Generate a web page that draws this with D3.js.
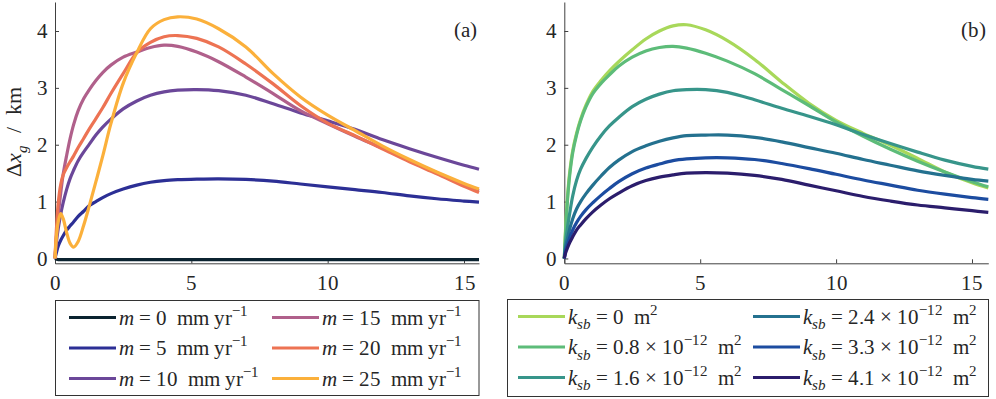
<!DOCTYPE html>
<html>
<head>
<meta charset="utf-8">
<title></title>
<style>
    @font-face {
        font-family: "PlotSerif";
        font-style: normal;
        src: local("Liberation Serif"), local("LiberationSerif"), local("LiberationSerif-Regular"),
             local("DejaVu Serif"), local("DejaVuSerif");
    }
    @font-face {
        font-family: "PlotSerif";
        font-style: italic;
        src: local("Liberation Serif Italic"), local("LiberationSerif-Italic"),
             local("DejaVu Serif Italic"), local("DejaVuSerif-Italic");
    }
    body { margin: 0; background: #fff; }
    svg text { fill: #262626; white-space: pre; font-family: "PlotSerif", "Liberation Serif", serif; }
    .axis path, .axis line { stroke: #404040; }
</style>
</head>
<body>
<script src="https://cdn.jsdelivr.net/npm/d3@7/dist/d3.min.js"></script>
<script>
// ---- data ----
var xTicks = [0, 5, 10, 15];
var yTicks = [0, 1, 2, 3, 4];

// panel (a): curves for different m
var xA = [0, 0.05, 0.12, 0.21, 0.3, 0.43, 0.55, 0.68, 0.85, 1.05, 1.26, 1.5, 1.75, 2.05, 2.5, 3, 3.5, 4, 4.5, 5.2, 6, 7, 8, 9, 10, 11, 12, 13, 14, 15, 15.55];
var yM0 = [0, -0.01, -0.02, -0.02, -0.02, -0.02, -0.02, -0.02, -0.02, -0.02, -0.02, -0.02, -0.02, -0.02, -0.02, -0.02, -0.02, -0.02, -0.02, -0.02, -0.02, -0.02, -0.02, -0.02, -0.02, -0.02, -0.02, -0.02, -0.02, -0.02, -0.02];
var yM5 = [0, 0.1, 0.22, 0.32, 0.4, 0.5, 0.57, 0.64, 0.74, 0.83, 0.93, 1.0, 1.07, 1.14, 1.22, 1.29, 1.34, 1.37, 1.385, 1.395, 1.4, 1.39, 1.36, 1.31, 1.26, 1.21, 1.16, 1.1, 1.05, 1.01, 0.99];
var yM10 = [0, 0.28, 0.53, 0.78, 0.98, 1.22, 1.4, 1.55, 1.72, 1.87, 2.01, 2.17, 2.31, 2.45, 2.63, 2.77, 2.87, 2.93, 2.96, 2.97, 2.95, 2.87, 2.72, 2.56, 2.42, 2.27, 2.09, 1.93, 1.78, 1.64, 1.57];
var yM15 = [0, 0.35, 0.76, 1.15, 1.48, 1.82, 2.1, 2.35, 2.6, 2.81, 2.97, 3.13, 3.27, 3.4, 3.54, 3.63, 3.71, 3.75, 3.73, 3.63, 3.46, 3.19, 2.9, 2.6, 2.37, 2.15, 1.94, 1.72, 1.51, 1.29, 1.19];
var yM20 = [0, 0.5, 0.98, 1.3, 1.47, 1.6, 1.7, 1.8, 1.95, 2.11, 2.28, 2.46, 2.65, 2.9, 3.25, 3.62, 3.8, 3.9, 3.92, 3.87, 3.72, 3.42, 3.07, 2.69, 2.38, 2.16, 1.93, 1.7, 1.49, 1.27, 1.16];
var yM25 = [0, 0.38, 0.65, 0.79, 0.7, 0.45, 0.27, 0.2, 0.3, 0.58, 0.93, 1.35, 1.8, 2.37, 3.08, 3.62, 4.04, 4.2, 4.25, 4.21, 4.04, 3.72, 3.25, 2.84, 2.52, 2.25, 1.98, 1.74, 1.52, 1.32, 1.22];
var mLabels = ["0", "5", "10", "15", "20", "25"];

// panel (b): curves for different k_sb
var xB = [0, 0.05, 0.12, 0.2, 0.31, 0.45, 0.6, 0.8, 1.05, 1.35, 1.66, 2, 2.5, 3, 3.5, 4, 4.5, 5.2, 6, 7, 8, 9, 10, 11, 12, 13, 14, 15, 15.6];
var yK0 = [0, 0.55, 1.1, 1.52, 1.9, 2.2, 2.45, 2.7, 2.94, 3.13, 3.3, 3.46, 3.67, 3.86, 4.0, 4.09, 4.11, 4.02, 3.83, 3.5, 3.1, 2.73, 2.43, 2.2, 1.99, 1.76, 1.52, 1.33, 1.24];
var yK08 = [0, 0.5, 1.04, 1.47, 1.86, 2.17, 2.42, 2.67, 2.9, 3.08, 3.23, 3.38, 3.54, 3.65, 3.71, 3.73, 3.7, 3.61, 3.47, 3.25, 2.97, 2.69, 2.4, 2.15, 1.92, 1.71, 1.52, 1.35, 1.26];
var yK16 = [0, 0.3, 0.55, 0.8, 1.1, 1.37, 1.57, 1.76, 1.96, 2.16, 2.33, 2.48, 2.67, 2.8, 2.89, 2.95, 2.97, 2.97, 2.92, 2.79, 2.64, 2.5, 2.35, 2.18, 2.02, 1.87, 1.73, 1.62, 1.57];
var yK24 = [0, 0.2, 0.36, 0.52, 0.7, 0.87, 1.0, 1.14, 1.29, 1.45, 1.6, 1.73, 1.88, 1.98, 2.06, 2.12, 2.16, 2.17, 2.17, 2.13, 2.05, 1.95, 1.85, 1.74, 1.64, 1.54, 1.46, 1.39, 1.36];
var yK33 = [0, 0.14, 0.25, 0.37, 0.5, 0.63, 0.74, 0.86, 0.98, 1.11, 1.23, 1.35, 1.49, 1.59, 1.66, 1.72, 1.75, 1.77, 1.77, 1.74, 1.67, 1.58, 1.48, 1.38, 1.29, 1.2, 1.13, 1.07, 1.04];
var yK41 = [0, 0.1, 0.19, 0.28, 0.38, 0.5, 0.59, 0.7, 0.82, 0.94, 1.05, 1.15, 1.28, 1.37, 1.43, 1.47, 1.5, 1.51, 1.5, 1.46, 1.39, 1.29, 1.19, 1.09, 1.01, 0.94, 0.89, 0.84, 0.81];
var kLabels = ["0", "0.8", "1.6", "2.4", "3.3", "4.1"];

var colorsA = ["#0b2330", "#2c2f95", "#6b4799", "#b0608b", "#ed7353", "#fbb03b"];
var colorsB = ["#a8d85a", "#5dbc79", "#37958a", "#24718f", "#1c4ca0", "#2b1d6c"];

// ---- layout ----
var width = 996, height = 399;
var plotTop = 2, plotBottom = 263.3;

var svg = d3.select("body").append("svg")
    .attr("width", width)
    .attr("height", height);

// write a line of "math" text from pieces {t, it, sup, sub}
function richText(sel, pieces, size) {
    var shift = 0;
    pieces.forEach(function(p) {
        var ts = sel.append("tspan").text(p.t);
        var target = p.sup ? -0.42 * size : (p.sub ? 0.28 * size : 0);
        if (target != shift) {
            ts.attr("dy", target - shift);
            shift = target;
        }
        if (p.it) ts.attr("font-style", "italic");
        if (p.sup || p.sub) ts.attr("font-size", size * 0.7);
    });
}

function drawPanel(left, right, xMax, xs, series, colors, tag) {
    var x = d3.scaleLinear().domain([0, xMax]).range([left, right]);
    var y = d3.scaleLinear().domain([-0.085, 4.51]).range([plotBottom, plotTop]);
    var g = svg.append("g");

    var xAxis = g.append("g")
        .attr("class", "axis")
        .attr("transform", "translate(0," + plotBottom + ")")
        .call(d3.axisBottom(x).tickValues(xTicks).tickFormat(d3.format("d"))
            .tickSizeInner(-4).tickSizeOuter(0).tickPadding(12));
    var yAxis = g.append("g")
        .attr("class", "axis")
        .attr("transform", "translate(" + left + ",0)")
        .call(d3.axisLeft(y).tickValues(yTicks).tickFormat(d3.format("d"))
            .tickSizeInner(-4).tickSizeOuter(0).tickPadding(7));
    g.selectAll(".axis").attr("font-family", null);
    g.selectAll(".axis text")
        .attr("font-size", 21)
        .attr("fill", "#262626");
    xAxis.selectAll("text").attr("dy", "0.71em");

    var line = d3.line()
        .x(function(d, i) { return x(xs[i]); })
        .y(function(d) { return y(d); })
        .curve(d3.curveCatmullRom.alpha(0.5));

    g.selectAll("path.curve")
        .data(series)
        .enter().append("path")
        .attr("class", "curve")
        .attr("d", line)
        .attr("fill", "none")
        .attr("stroke", function(d, i) { return colors[i]; })
        .attr("stroke-width", 3.2)
        .attr("stroke-linejoin", "round");

    g.append("text")
        .attr("x", right - 2)
        .attr("y", 37)
        .attr("text-anchor", "end")
        .attr("font-size", 21)
        .text(tag);
}

drawPanel(55, 479, 15.55, xA, [yM0, yM5, yM10, yM15, yM20, yM25], colorsA, "(a)");
drawPanel(564.3, 988.3, 15.6, xB, [yK0, yK08, yK16, yK24, yK33, yK41], colorsB, "(b)");

// y label
var ylab = svg.append("text")
    .attr("transform", "translate(21,132) rotate(-90)")
    .attr("text-anchor", "middle")
    .attr("font-size", 22);
richText(ylab, [{t: "\u0394"}, {t: "x", it: true}, {t: "g", it: true, sub: true}, {t: "  /  km"}], 22);

// legends
function drawLegend(box, cols, labels, colors, makePieces) {
    svg.append("rect")
        .attr("x", box.x).attr("y", box.y)
        .attr("width", box.w).attr("height", box.h)
        .attr("fill", "#fff")
        .attr("stroke", "#333")
        .attr("stroke-width", 1);
    labels.forEach(function(lab, i) {
        var c = Math.floor(i / 3), r = i % 3;
        var cy = box.y + 17 + r * 30.5;
        var lx = cols[c];
        svg.append("line")
            .attr("x1", lx).attr("x2", lx + 47)
            .attr("y1", cy).attr("y2", cy)
            .attr("stroke", colors[i])
            .attr("stroke-width", 3.2);
        var t = svg.append("text")
            .attr("x", lx + 50)
            .attr("y", cy + 7)
            .attr("font-size", 21);
        richText(t, makePieces(lab), 21);
    });
}

drawLegend({x: 55.5, y: 300.5, w: 423.5, h: 95}, [69, 272], mLabels, colorsA, function(v) {
    return [{t: "m", it: true}, {t: " = " + v + "  mm yr"}, {t: "\u22121", sup: true}];
});

drawLegend({x: 507.5, y: 299.5, w: 481, h: 97}, [518, 753], kLabels, colorsB, function(v) {
    var p = [{t: "k", it: true}, {t: "sb", it: true, sub: true}];
    if (v == "0") {
        p.push({t: " = 0  m"});
    } else {
        p.push({t: " = " + v + " \u00d7 10"});
        p.push({t: "\u221212", sup: true});
        p.push({t: "  m"});
    }
    p.push({t: "2", sup: true});
    return p;
});
</script>
</body>
</html>
